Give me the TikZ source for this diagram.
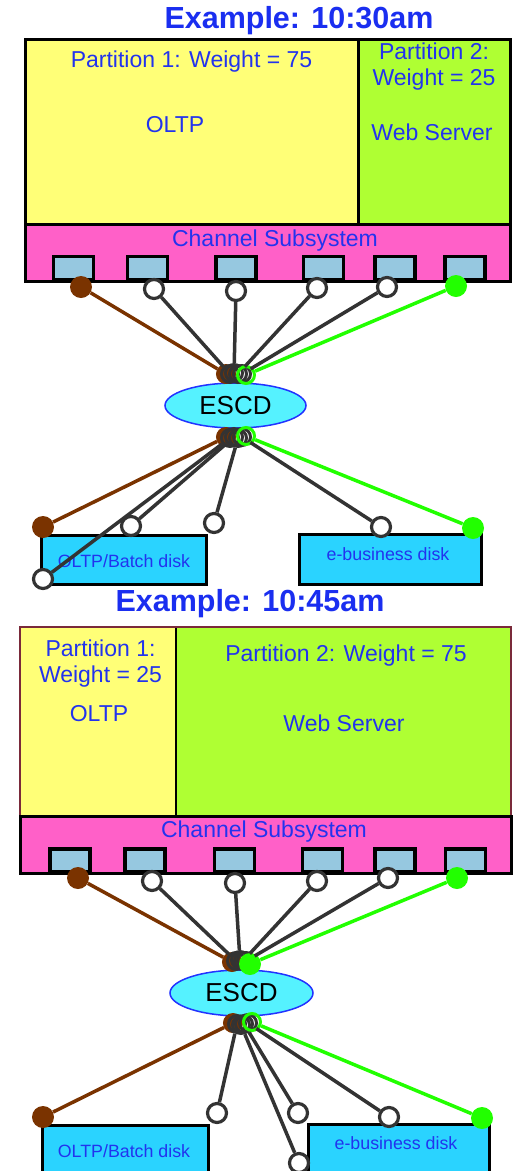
\documentclass[tikz,border=0pt]{standalone}
\usepackage{fontspec}
\setmainfont{Liberation Sans}
\usetikzlibrary{shapes.geometric}
\definecolor{txtblue}{HTML}{2233EE}
\definecolor{ttlblue}{HTML}{1A2EF0}
\definecolor{yel}{HTML}{FFFF77}
\definecolor{lgreen}{HTML}{AFFF33}
\definecolor{pinkc}{HTML}{FF60C8}
\definecolor{portblue}{HTML}{96C8E0}
\definecolor{escdfill}{HTML}{55F2FF}
\definecolor{escdline}{HTML}{2233FF}
\definecolor{diskfill}{HTML}{2AD3FF}
\definecolor{brownc}{HTML}{7A3300}
\definecolor{greenc}{HTML}{22FF00}
\definecolor{dgray}{HTML}{333333}
\definecolor{maroon}{HTML}{7A2A3A}
\tikzset{
  lbl/.style={text=txtblue, font=\fontsize{23}{26}\selectfont, align=center, inner sep=0},
  disklbl/.style={text=txtblue, font=\fontsize{17.8}{20}\selectfont, inner sep=0},
  ttl/.style={text=ttlblue, font=\bfseries\fontsize{30.5}{34}\selectfont, inner sep=0},
  box/.style={draw=black, line width=3pt},
  portbox/.style={draw=black, line width=3.2pt, fill=portblue, minimum width=40pt, minimum height=23pt, inner sep=0},
  opn/.style={circle, draw=dgray, line width=3.2pt, fill=white, minimum size=19pt, inner sep=0},
  brn/.style={circle, fill=brownc, minimum size=22pt, inner sep=0},
  grn/.style={circle, fill=greenc, minimum size=22pt, inner sep=0},
  cl/.style={circle, draw=dgray, line width=3pt, minimum size=17pt, inner sep=0},
  clbrn/.style={circle, fill=brownc, draw=brownc, line width=1pt, minimum size=19pt, inner sep=0},
  clgrn/.style={circle, draw=greenc, line width=3pt, minimum size=17pt, inner sep=0},
  clgrnf/.style={circle, fill=greenc, minimum size=22pt, inner sep=0},
  escd/.style={ellipse, draw=escdline, line width=1.5pt, fill=escdfill, inner sep=0, font=\fontsize{26}{28}\selectfont},
  dk/.style={line width=3.5pt, draw=dgray},
  bk/.style={line width=3.5pt, draw=brownc},
  gk/.style={line width=3.5pt, draw=greenc},
}
\begin{document}
\begin{tikzpicture}[x=1pt,y=-1pt]
\useasboundingbox (0,0) rectangle (512,1171);
% ===== Section 1 =====
\node[ttl] (t1) at (299,21) {Example: 10:30am};
\filldraw[box, fill=yel] (25.5,39) rectangle (358,224);
\filldraw[box, fill=lgreen] (358,39) rectangle (510,224);
\node[lbl] (p1a) at (191.5,62) {Partition 1: Weight = 75};
\node[lbl] (p1b) at (175,125) {OLTP};
\node[lbl] (p2a) at (434,67) {Partition 2:\\Weight = 25};
\node[lbl] (p2b) at (432,132) {Web Server};
\filldraw[box, fill=pinkc] (25.5,224) rectangle (510,281);
\node[lbl] (cs1) at (275,241) {Channel Subsystem};
\foreach \i/\x in {1/73.5,2/147.5,3/236,4/323.5,5/395,6/465}
  \node[portbox] (pa\i) at (\x,268) {};
% ESCD
\node[escd, minimum width=141pt, minimum height=45pt] (e1) at (235.5,405.5) {ESCD};
% disks
\node[box, fill=diskfill, minimum width=165pt, minimum height=49pt, anchor=north west] (dsk1) at (40,534) {};
\node[disklbl] (dsk1t) at (124,561) {OLTP/Batch disk};
\node[box, fill=diskfill, minimum width=182pt, minimum height=50pt, anchor=north west] (dsk2) at (298,533) {};
\node[disklbl] (dsk2t) at (388,554) {e-business disk};
% port circles
\node[brn] (a1) at (81,287) {};
\node[opn] (a2) at (154,289) {};
\node[opn] (a3) at (236,291) {};
\node[opn] (a4) at (317,288) {};
\node[opn] (a5) at (387,287) {};
\node[grn] (a6) at (456,286) {};
% top cluster
\node[clbrn] (b1) at (226,374) {};
\node[cl] (b2) at (230,374) {};
\node[cl] (b3) at (234,373) {};
\node[cl] (b4) at (238,374) {};
\node[cl] (b5) at (242,374) {};
\node[clgrn] (b6) at (246,375) {};
% bottom cluster
\node[clbrn] (c1) at (226,437) {};
\node[cl] (c2) at (230,438) {};
\node[cl] (c3) at (234,437) {};
\node[cl] (c4) at (238,438) {};
\node[cl] (c5) at (242,437) {};
\node[clgrn] (c6) at (246,436) {};
% disk-side circles
\node[brn] (d1) at (43,527) {};
\node[opn] (d2) at (131,526) {};
\node[opn] (d3) at (214,523) {};
\node[opn] (d4) at (381,527) {};
\node[grn] (d5) at (473,528) {};
\node[opn] (d7) at (43,579) {};
% connectors
\draw[bk] (a1) -- (b1);
\draw[dk] (a2) -- (b2);
\draw[dk] (a3) -- (b3);
\draw[dk] (a4) -- (b4);
\draw[dk] (a5) -- (b5);
\draw[gk] (a6) -- (b6);
\draw[bk] (c1) -- (d1);
\draw[dk] (c2) -- (d7);
\draw[dk] (c3) -- (d2);
\draw[dk] (c4) -- (d3);
\draw[dk] (c5) -- (d4);
\draw[gk] (c6) -- (d5);
% ===== Section 2 =====
\node[ttl] (t2) at (250,604) {Example: 10:45am};
\fill[yel] (20,627) rectangle (176,816);
\fill[lgreen] (176,627) rectangle (511,816);
\draw[maroon, line width=2pt] (20,816) -- (20,627) -- (511,627) -- (511,816);
\draw[black, line width=1.5pt] (176,628) -- (176,816);
\node[lbl] (r1a) at (100.5,664) {Partition 1:\\Weight = 25};
\node[lbl] (r1b) at (99,714) {OLTP};
\node[lbl] (r2a) at (346,656) {Partition 2: Weight = 75};
\node[lbl] (r2b) at (344,723) {Web Server};
\filldraw[box, fill=pinkc] (20,816) rectangle (511,873);
\node[lbl] (cs2) at (264,832) {Channel Subsystem};
\foreach \i/\x in {1/70,2/145,3/234.5,4/322.5,5/395,6/465.5}
  \node[portbox] (pb\i) at (\x,860.5) {};
\node[escd, minimum width=143pt, minimum height=46pt] (e2) at (241.5,993) {ESCD};
\node[box, fill=diskfill, minimum width=166pt, minimum height=50pt, anchor=north west] (dsk3) at (41,1124) {};
\node[disklbl] (dsk3t) at (124,1151) {OLTP/Batch disk};
\node[box, fill=diskfill, minimum width=181pt, minimum height=50pt, anchor=north west] (dsk4) at (307,1123) {};
\node[disklbl] (dsk4t) at (396,1143) {e-business disk};
% port circles
\node[brn] (f1) at (78,878) {};
\node[opn] (f2) at (152,881) {};
\node[opn] (f3) at (235,883) {};
\node[opn] (f4) at (317,881) {};
\node[opn] (f5) at (388,878) {};
\node[grn] (f6) at (457,878) {};
% top cluster
\node[clbrn] (g1) at (232,962) {};
\node[cl] (g2) at (236,961) {};
\node[cl] (g3) at (240,960) {};
\node[cl] (g4) at (243,961) {};
\node[cl] (g5) at (246,961) {};
\node[clgrnf] (g6) at (250,964) {};
% bottom cluster
\node[clbrn] (h1) at (233,1023) {};
\node[cl] (h2) at (237,1024) {};
\node[cl] (h3) at (241,1025) {};
\node[cl] (h4) at (244,1024) {};
\node[cl] (h5) at (248,1023) {};
\node[clgrn] (h6) at (252,1022) {};
% disk-side circles
\node[brn] (k1) at (43,1117) {};
\node[opn] (k2) at (217,1113) {};
\node[opn] (k3) at (298,1113) {};
\node[opn] (k4) at (299,1163) {};
\node[opn] (k5) at (389,1117) {};
\node[grn] (k6) at (482,1118) {};
% connectors
\draw[bk] (f1) -- (g1);
\draw[dk] (f2) -- (g2);
\draw[dk] (f3) -- (g3);
\draw[dk] (f4) -- (g4);
\draw[dk] (f5) -- (g5);
\draw[gk] (f6) -- (g6);
\draw[bk] (h1) -- (k1);
\draw[dk] (h2) -- (k2);
\draw[dk] (h3) -- (k4);
\draw[dk] (h4) -- (k3);
\draw[dk] (h5) -- (k5);
\draw[gk] (h6) -- (k6);
\end{tikzpicture}
\end{document}
